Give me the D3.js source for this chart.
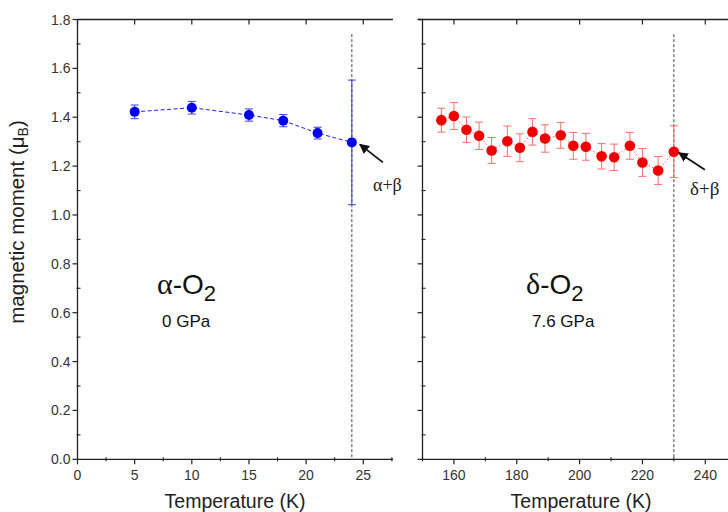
<!DOCTYPE html>
<html><head><meta charset="utf-8">
<script src="https://cdn.jsdelivr.net/npm/d3@7"></script>
<style>body{margin:0;background:#fff}svg{display:block}</style>
</head><body>
<svg id="c" width="728" height="512"></svg>
<script>
// ---- data ----
const tempsA = [5, 10, 15, 18, 21, 24];
const momA   = [1.422, 1.439, 1.409, 1.386, 1.335, 1.297];
const errA   = [0.028, 0.026, 0.025, 0.025, 0.024, 0.255];
const tempsD = [156, 160, 164, 168, 172, 177, 181, 185, 189, 194, 198, 202, 207, 211, 216, 220, 225, 230];
const momD   = [1.388, 1.405, 1.349, 1.324, 1.264, 1.302, 1.275, 1.340, 1.313, 1.326, 1.283, 1.279, 1.240, 1.236, 1.283, 1.215, 1.182, 1.259];
const errD   = [0.049, 0.055, 0.052, 0.056, 0.053, 0.062, 0.057, 0.054, 0.056, 0.053, 0.055, 0.055, 0.052, 0.054, 0.055, 0.057, 0.057, 0.106];
const yTicks = [0, 0.2, 0.4, 0.6, 0.8, 1.0, 1.2, 1.4, 1.6, 1.8];
const xTicksA = [0, 5, 10, 15, 20, 25];
const xTicksD = [160, 180, 200, 220, 240];
const transA = 24, transD = 230;

const svg = d3.select("#c");
const y = d3.scaleLinear().domain([0, 1.8]).range([459.3, 19.5]);
const xA = d3.scaleLinear().domain([0, 27.6]).range([77.5, 393]);
const xD = d3.scaleLinear().domain([150, 250]).range([422.5, 736.7]);
const sans = "'Liberation Sans', Arial, sans-serif";
const serif = "'Liberation Serif', 'Times New Roman', serif";
const ink = "#222";

function frame(x, xTicks, xMinor, showYLabels, topStart) {
  const g = svg.append("g");
  const [x0, x1] = x.range();
  g.append("line").attr("x1", x0).attr("x2", x0).attr("y1", y(0)).attr("y2", y(1.8)).attr("stroke", ink).attr("stroke-width", 1.3);
  g.append("line").attr("x1", x0).attr("x2", Math.min(x1, 728)).attr("y1", y(0)).attr("y2", y(0)).attr("stroke", ink).attr("stroke-width", 1.3);
  g.append("line").attr("x1", topStart).attr("x2", Math.min(x1, 728)).attr("y1", y(1.8)).attr("y2", y(1.8)).attr("stroke", ink).attr("stroke-width", 1.3);
  yTicks.forEach(v => {
    g.append("line").attr("x1", x0 - 5).attr("x2", x0).attr("y1", y(v)).attr("y2", y(v)).attr("stroke", ink).attr("stroke-width", 1.2);
    if (showYLabels) g.append("text").attr("x", x0 - 7).attr("y", y(v) + 5).attr("text-anchor", "end")
      .attr("font-family", sans).attr("font-size", 14).attr("fill", "#333").text(d3.format(".1f")(v));
  });
  d3.range(0.1, 1.8, 0.2).forEach(v => {
    g.append("line").attr("x1", x0 - 1).attr("x2", x0 + 3).attr("y1", y(v)).attr("y2", y(v)).attr("stroke", ink).attr("stroke-width", 1.1);
  });
  xTicks.forEach(v => {
    g.append("line").attr("x1", x(v)).attr("x2", x(v)).attr("y1", y(0)).attr("y2", y(0) + 5).attr("stroke", ink).attr("stroke-width", 1.2);
    g.append("line").attr("x1", x(v)).attr("x2", x(v)).attr("y1", y(1.8)).attr("y2", y(1.8) + 5).attr("stroke", ink).attr("stroke-width", 1.2);
    g.append("text").attr("x", x(v)).attr("y", 480).attr("text-anchor", "middle")
      .attr("font-family", sans).attr("font-size", 14).attr("fill", "#333").text(v);
  });
  xMinor.forEach(v => {
    g.append("line").attr("x1", x(v)).attr("x2", x(v)).attr("y1", y(0) - 2).attr("y2", y(0) + 2).attr("stroke", ink).attr("stroke-width", 1.1);
  });
}

frame(xA, xTicksA, d3.range(2.5, 27.6, 5), true, 77.5);
frame(xD, xTicksD, d3.range(150, 250, 20), false, 418);

// axis titles
svg.append("text").attr("transform", "translate(24,222) rotate(-90)").attr("text-anchor", "middle")
  .attr("font-family", sans).attr("font-size", 20.5).attr("fill", ink)
  .call(t => { t.append("tspan").text("magnetic moment (μ"); t.append("tspan").attr("font-size", 14).attr("dy", 4).text("B"); t.append("tspan").attr("dy", -4).text(")"); });
svg.append("text").attr("x", 235).attr("y", 508).attr("text-anchor", "middle").attr("font-family", sans).attr("font-size", 19.5).attr("fill", ink).text("Temperature (K)");
svg.append("text").attr("x", 581).attr("y", 508).attr("text-anchor", "middle").attr("font-family", sans).attr("font-size", 19.5).attr("fill", ink).text("Temperature (K)");

// transition dashed lines
[[xA, transA], [xD, transD]].forEach(([x, t]) => {
  svg.append("line").attr("x1", x(t)).attr("x2", x(t)).attr("y1", y(1.74)).attr("y2", y(0))
    .attr("stroke", "#444").attr("stroke-width", 1).attr("stroke-dasharray", "3,2");
});

function series(x, temps, mom, err, color, errColor, dash, lineColor, r) {
  const g = svg.append("g");
  const line = d3.line().x(i => x(temps[i])).y(i => y(mom[i]));
  g.append("path").attr("d", line(d3.range(temps.length))).attr("fill", "none")
    .attr("stroke", lineColor).attr("stroke-width", 1).attr("stroke-dasharray", dash);
  temps.forEach((t, i) => {
    const cx = x(t);
    g.append("line").attr("x1", cx).attr("x2", cx).attr("y1", y(mom[i] - err[i])).attr("y2", y(mom[i] + err[i])).attr("stroke", errColor).attr("stroke-width", 1);
    [mom[i] - err[i], mom[i] + err[i]].forEach(v => {
      g.append("line").attr("x1", cx - 4).attr("x2", cx + 4).attr("y1", y(v)).attr("y2", y(v)).attr("stroke", errColor).attr("stroke-width", 1);
    });
  });
  temps.forEach((t, i) => {
    g.append("circle").attr("cx", x(t)).attr("cy", y(mom[i])).attr("r", r).attr("fill", color);
  });
}
series(xA, tempsA, momA, errA, "#0000ee", "#3a3ae0", "4,2.5", "#2222cc", 5);
series(xD, tempsD, momD, errD, "#ee0000", "#f07070", "1.5,2", "#f06060", 5.3);

// arrows
svg.append("defs").append("marker").attr("id", "ah").attr("viewBox", "0 0 10 10").attr("refX", 9).attr("refY", 5)
  .attr("markerWidth", 10).attr("markerHeight", 10).attr("markerUnits", "userSpaceOnUse").attr("orient", "auto")
  .append("path").attr("d", "M0,0 L10,5 L0,10 z").attr("fill", "#111");
function arrow(x, t, v, ox, oy, dx, dy) {
  const hx = x(t) + ox, hy = y(v) + oy;
  svg.append("line").attr("x1", hx + dx).attr("y1", hy + dy).attr("x2", hx).attr("y2", hy)
    .attr("stroke", "#111").attr("stroke-width", 1.8).attr("marker-end", "url(#ah)");
}
arrow(xA, transA, momA[momA.length - 1], 8, 2, 23, 18);
arrow(xD, transD, momD[momD.length - 1], 5, 1, 26, 17);

svg.append("text").attr("x", 373).attr("y", 191).attr("font-family", serif).attr("font-size", 18).attr("fill", ink).text("α+β");
svg.append("text").attr("x", 690).attr("y", 195).attr("font-family", serif).attr("font-size", 19).attr("fill", ink).text("δ+β");

// phase labels
function phase(xp, greek) {
  const t = svg.append("text").attr("x", xp).attr("y", 294).attr("fill", "#111");
  t.append("tspan").attr("font-family", serif).attr("font-size", 30).text(greek);
  t.append("tspan").attr("font-family", sans).attr("font-size", 28).text("-O");
  t.append("tspan").attr("font-family", sans).attr("font-size", 22).attr("dy", 7).text("2");
}
phase(157, "α");
phase(526, "δ");
svg.append("text").attr("x", 162).attr("y", 327).attr("font-family", sans).attr("font-size", 17).attr("fill", "#111").text("0 GPa");
svg.append("text").attr("x", 532).attr("y", 327).attr("font-family", sans).attr("font-size", 17).attr("fill", "#111").text("7.6 GPa");
</script>
</body></html>
